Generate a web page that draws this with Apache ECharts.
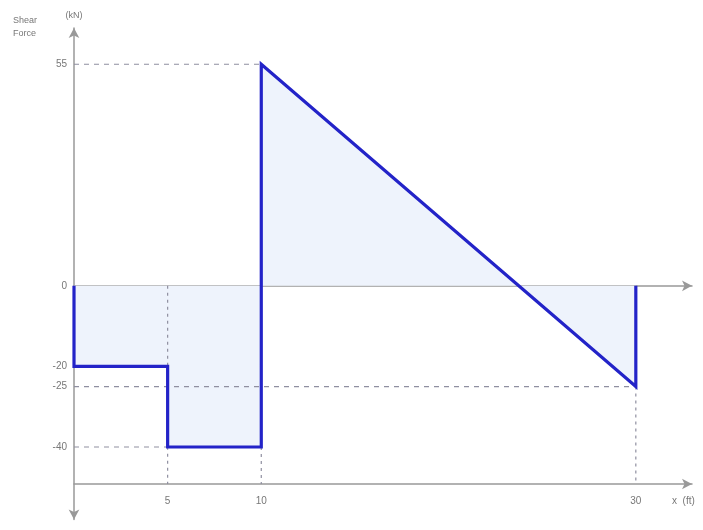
<!DOCTYPE html>
<html>
<head>
<meta charset="utf-8">
<title>Shear Force Diagram</title>
<script src="https://cdn.jsdelivr.net/npm/echarts@6/dist/echarts.min.js"></script>
<style>
    html, body { margin: 0; padding: 0; background: #fff; }
    #chart { width: 703px; height: 530px; }
</style>
</head>
<body>
<div id="chart"></div>
<script>
// shear force diagram points (x in ft, V in kN)
var shearX = [0, 0, 5, 5, 10, 10, 30, 30];
var shearV = [0, -20, -20, -40, -40, 55, -25, 0];

// tick labels
var xTicks = [5, 10, 30];
var yTicks = [55, 0, -20, -25, -40];

// dashed guides: horizontal [value, fromX, toX]
var hGuides = [[55, 0, 10], [-25, 0, 30], [-40, 0, 5]];
// vertical guides: [x, fromV, toV] (toV = second axis level)
var baseLevel = -49.2;
var vGuides = [[5, 0, baseLevel], [10, -40, baseLevel], [30, -25, baseLevel]];

var chart = echarts.init(document.getElementById('chart'));

var grey = '#999';
var labelFont = { color: '#777', fontSize: 10, fontFamily: 'Liberation Sans' };
var shearData = shearX.map(function (x, i) { return [x, shearV[i]]; });

var series = [];

// fill under the diagram
series.push({
    type: 'line',
    xAxisIndex: 1,
    data: shearData,
    symbol: 'none',
    silent: true,
    z: 1,
    lineStyle: { width: 0, opacity: 0 },
    areaStyle: { color: '#eef3fc', opacity: 1, origin: 0 }
});

hGuides.forEach(function (g) {
    series.push({
        type: 'line',
        xAxisIndex: 1,
        data: [[g[1], g[0]], [g[2], g[0]]],
        symbol: 'none',
        silent: true,
        z: 2,
        lineStyle: { color: '#8f8fa0', width: 1.2, type: [5, 5] }
    });
});

vGuides.forEach(function (g) {
    series.push({
        type: 'line',
        xAxisIndex: 1,
        data: [[g[0], g[1]], [g[0], g[2]]],
        symbol: 'none',
        silent: true,
        z: 2,
        lineStyle: { color: '#8f8fa0', width: 1.2, type: [3, 4] }
    });
});

series.push({
    name: 'Shear Force',
    type: 'line',
    xAxisIndex: 1,
    data: shearData,
    symbol: 'none',
    z: 3,
    lineStyle: { color: '#2323c8', width: 3.2, join: 'miter' }
});

chart.setOption({
    animation: false,
    backgroundColor: '#fff',
    title: {
        text: 'Shear\nForce',
        left: 8,
        top: 9,
        textStyle: { color: '#777', fontSize: 9, fontWeight: 'normal', lineHeight: 13, fontFamily: 'Liberation Sans' }
    },
    grid: { left: 74, right: 11, top: 28, bottom: 10.5, containLabel: false, outerBoundsMode: 'none' },
    xAxis: [
        {
            type: 'value',
            position: 'top',
            min: 0,
            max: 33,
            axisLine: { onZero: true, lineStyle: { color: grey, width: 1.5 }, symbol: ['none', 'arrow'], symbolSize: [8, 10] },
            axisTick: { show: false },
            axisLabel: { show: false },
            splitLine: { show: false }
        },
        {
            type: 'value',
            position: 'bottom',
            offset: -35.5,
            min: 0,
            max: 33,
            name: 'x  (ft)',
            nameLocation: 'end',
            nameGap: -20,
            nameTextStyle: { color: '#777', fontSize: 10, fontFamily: 'Liberation Sans', align: 'left', verticalAlign: 'top', padding: [12, 0, 0, 0] },
            axisLine: { onZero: false, lineStyle: { color: grey, width: 1.5 }, symbol: ['none', 'arrow'], symbolSize: [8, 10] },
            axisTick: { show: false },
            axisLabel: Object.assign({ customValues: xTicks, margin: 12 }, labelFont),
            splitLine: { show: false }
        }
    ],
    yAxis: {
        type: 'value',
        min: -58,
        max: 64,
        name: '(kN)',
        nameGap: 8,
        nameTextStyle: { color: '#777', fontSize: 9, fontFamily: 'Liberation Sans' },
        axisLine: { show: true, lineStyle: { color: grey, width: 1.5 }, symbol: ['arrow', 'arrow'], symbolSize: [8, 10] },
        axisTick: { show: false },
        axisLabel: Object.assign({ customValues: yTicks, margin: 7 }, labelFont),
        splitLine: { show: false }
    },
    series: series
});
</script>
</body>
</html>
